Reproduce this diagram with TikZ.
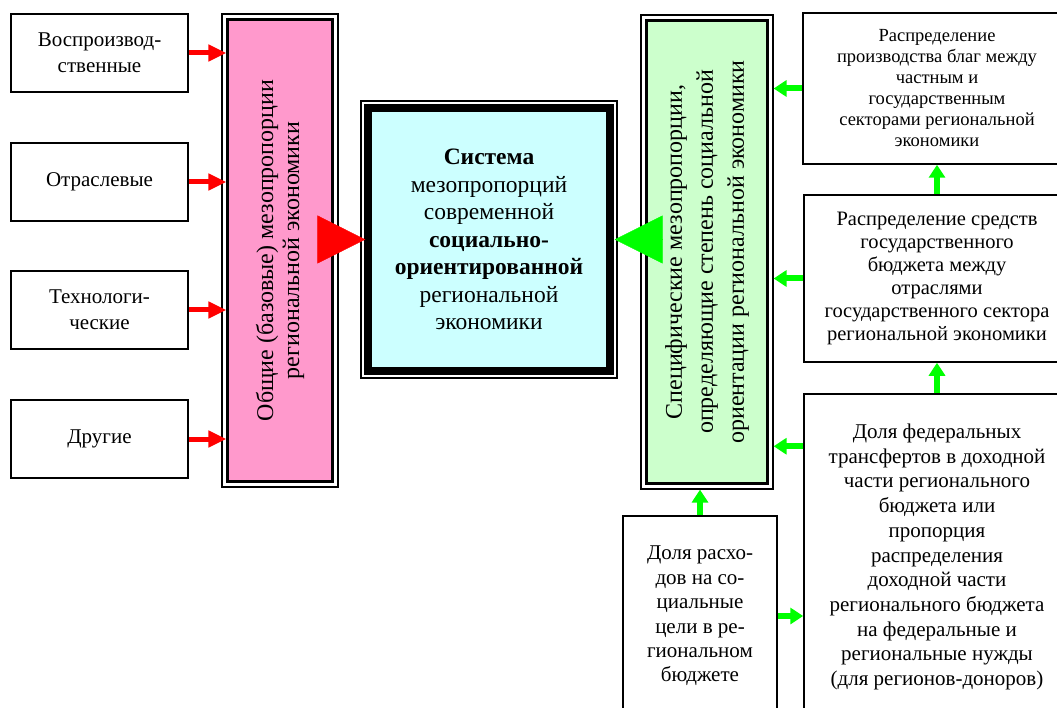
\documentclass[tikz,border=0pt]{standalone}
\usepackage{fontspec}
\setmainfont{Liberation Serif}
\usetikzlibrary{arrows.meta,calc}
\definecolor{pinkfill}{HTML}{FF99CC}
\definecolor{cyanfill}{HTML}{CCFFFF}
\definecolor{greenfill}{HTML}{CCFFCC}
\definecolor{arrgreen}{HTML}{00FF00}
\tikzset{factor/.style={draw, line width=1.5pt, fill=white,
         minimum width=177pt, minimum height=78pt, align=center,
         font=\fontsize{21}{26}\selectfont},
         infobox/.style={draw, line width=1.5pt, fill=white, align=center, inner sep=0pt},
         frame/.style={draw, line width=1.2pt, fill=white, inner sep=0pt},
         sidetext/.style={rotate=90, align=center, font=\fontsize{24}{#1}\selectfont},
         sidetext/.default={26},
         redarr/.style={red, line width=5pt, -{Triangle[length=18pt,width=16pt]}, shorten >=-5pt},
         greenarr/.style={arrgreen, line width=6pt, -{Triangle[length=13pt,width=16pt]}},
         bigtip/.style={#1, line width=0.4pt, -{Triangle[length=48pt,width=48pt]}}}

\begin{document}
\begin{tikzpicture}[x=1pt, y=-1pt]
  \useasboundingbox (0,0) rectangle (1057,708);

  % left column
  \node[factor] (repr) at (99.5,53) {Воспроизвод-\\ственные};
  \node[factor] (branch) at (99.5,182) {Отраслевые};
  \node[factor] (techn) at (99.5,310) {Технологи-\\ческие};
  \node[factor] (other) at (99.5,439) {Другие};

  \node[frame, minimum width=116pt, minimum height=473pt] (general) at (280,250.5) {};
  \draw[line width=3pt, fill=pinkfill] ($(general.north west)+(6,6)$) rectangle ($(general.south east)-(6,6)$);
  \node[sidetext] (generaltext) at (general.center) {Общие (базовые) мезопропорции\\региональной экономики};

  % centre
  \node[frame, minimum width=256pt, minimum height=277pt] (system) at (489,239.5) {};
  \draw[line width=8pt, fill=cyanfill] ($(system.north west)+(8,8)$) rectangle ($(system.south east)-(8,8)$);
  \node[align=center, font=\fontsize{23.5}{27.5}\selectfont] (systemtext) at (system.center)
    {\textbf{Система}\\мезопропорций\\современной\\\textbf{социально-}\\\textbf{ориентированной}\\региональной\\экономики};

  % right column
  \node[frame, minimum width=132pt, minimum height=474pt] (specific) at (707,252) {};
  \draw[line width=3pt, fill=greenfill] ($(specific.north west)+(6,6)$) rectangle ($(specific.south east)-(6,6)$);
  \node[sidetext=31] (specifictext) at (specific.center) {Специфические мезопропорции,\\определяющие степень социальной\\ориентации региональной экономики};

  \node[infobox, minimum width=268pt, minimum height=151pt, font=\fontsize{18.5}{21}\selectfont] (sectors) at (937,88.5)
    {Распределение\\производства благ между\\частным и\\государственным\\секторами региональной\\экономики};
  \node[infobox, minimum width=266pt, minimum height=167pt, font=\fontsize{20.5}{23}\selectfont] (budget) at (937,278.5)
    {Распределение средств\\государственного\\бюджета между\\отраслями\\государственного сектора\\региональной экономики};
  \node[infobox, minimum width=266pt, minimum height=326pt, font=\fontsize{21}{24.7}\selectfont] (transfers) at (937,557)
    {Доля федеральных\\трансфертов в доходной\\части регионального\\бюджета или\\пропорция\\распределения\\доходной части\\регионального бюджета\\на федеральные и\\региональные нужды\\(для регионов-доноров)};
  \node[infobox, minimum width=154pt, minimum height=200pt, font=\fontsize{21}{24.4}\selectfont] (social) at (700,616)
    {Доля расхо-\\дов на со-\\циальные\\цели в ре-\\гиональном\\бюджете};
  \coordinate (transin) at ([yshift=-53pt]transfers.north west);

  % arrows
  \foreach \f in {repr,branch,techn,other}
    \draw[redarr] (\f.east) -- (\f.east -| general.west);
  \draw[bigtip=red, shorten >=-5pt] (system.west -| general.east) -- (system.west);
  \draw[bigtip=arrgreen, shorten >=-3pt] (system.east -| specific.west) -- (system.east);

  \draw[greenarr] (sectors.west) -- (sectors.west -| specific.east);
  \draw[greenarr] (budget.west) -- (budget.west -| specific.east);
  \draw[greenarr] (transin) -- (transin -| specific.east);
  \draw[greenarr] (budget.north) -- (sectors.south);
  \draw[greenarr] (transfers.north) -- (budget.south);
  \draw[greenarr] (social.north) -- (social.north |- specific.south);
  \draw[greenarr] (social.east) -- (social.east -| transfers.west);
\end{tikzpicture}
\end{document}
